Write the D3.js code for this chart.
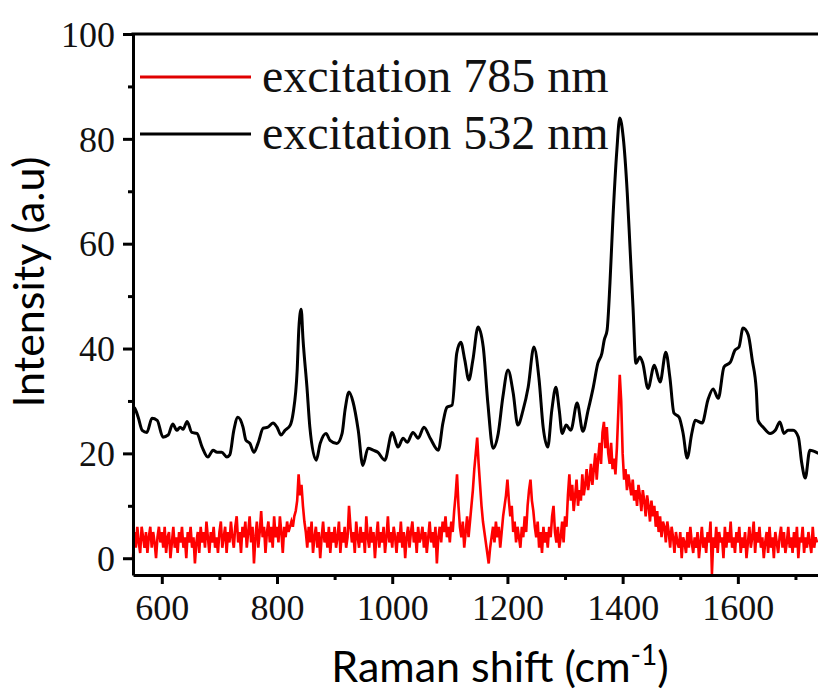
<!DOCTYPE html>
<html>
<head>
  <title>Raman spectra</title>
  <meta charset="UTF-8">
  <style>
  body { margin:0; background:#fff; }
  .tick text { font-family:"Liberation Serif","Times New Roman",serif; font-size:36px; fill:#111; }
  .axis-title { font-family:Lato,"Open Sans",sans-serif; font-size:43px; fill:#000; }
  .legend text { font-family:"Liberation Serif","Times New Roman",serif; font-size:48px; fill:#111; }
  </style>
</head>
<body>
  <div id="chart"></div>
  <script src="https://d3js.org/d3.v7.min.js" charset="utf-8"></script>
  <script type="text/javascript">
    // 532 nm spectrum (smooth, black)
    var shift532 = [550, 553, 559, 566, 574, 583, 592, 602, 611, 619, 626, 632, 637, 644, 652, 661, 670, 680, 689, 696,
      704, 713, 718, 725, 732, 741, 746, 753, 760, 767, 776, 784, 793, 800, 807, 814, 823, 828, 835, 838,
      842, 845, 852, 857, 868, 875, 885, 892, 904, 913, 918, 925, 932, 941, 949, 958, 967, 975, 987, 1000,
      1010, 1019, 1026, 1036, 1045, 1055, 1066, 1080, 1088, 1095, 1104, 1112, 1119, 1126, 1133, 1140, 1149, 1158, 1166, 1175,
      1184, 1192, 1201, 1210, 1218, 1227, 1236, 1246, 1255, 1262, 1270, 1277, 1284, 1290, 1295, 1302, 1310, 1321, 1331, 1340,
      1349, 1357, 1364, 1368, 1373, 1378, 1383, 1390, 1395, 1401, 1408, 1413, 1418, 1423, 1430, 1435, 1444, 1455, 1465, 1475,
      1482, 1489, 1498, 1505, 1512, 1520, 1526, 1538, 1548, 1557, 1566, 1576, 1587, 1595, 1602, 1609, 1618, 1625, 1632, 1635,
      1644, 1656, 1665, 1673, 1680, 1687, 1696, 1705, 1711, 1717, 1725, 1740];
    var int532 = [28.8, 28.6, 26.9, 24.4, 24.0, 26.7, 26.3, 23.1, 23.5, 25.6, 24.4, 25.0, 24.6, 26.1, 24.0, 23.8, 21.2, 19.3, 20.6, 20.2,
      20.2, 19.3, 19.7, 24.4, 26.9, 25.0, 22.5, 21.9, 20.2, 21.9, 24.8, 25.0, 25.8, 25.0, 23.5, 24.4, 25.4, 27.7, 35.9, 44.0,
      47.5, 42.0, 32.6, 25.0, 18.7, 21.9, 23.8, 22.5, 21.9, 23.8, 28.2, 31.7, 29.8, 24.4, 17.7, 21.0, 20.6, 20.2, 18.7, 24.0,
      21.2, 22.9, 22.1, 24.0, 22.9, 25.0, 22.9, 20.6, 25.8, 28.8, 29.2, 39.1, 41.2, 37.8, 34.0, 37.8, 44.1, 40.3, 29.6, 21.0,
      23.8, 30.7, 35.9, 31.5, 25.4, 28.2, 32.6, 40.3, 34.0, 25.0, 21.2, 28.2, 32.6, 28.2, 23.8, 25.4, 24.4, 29.6, 24.2, 28.2,
      32.6, 37.2, 39.1, 41.6, 43.5, 52.5, 64.5, 77.9, 84.0, 80.3, 69.7, 58.8, 47.9, 37.2, 38.4, 37.2, 32.4, 36.8, 33.6, 39.3,
      34.5, 27.7, 26.9, 23.8, 19.1, 23.8, 26.3, 25.8, 30.2, 32.3, 30.5, 36.5, 37.4, 39.7, 40.3, 43.9, 42.6, 37.8, 32.1, 26.3,
      25.0, 23.8, 24.4, 26.0, 23.8, 24.4, 24.4, 23.1, 18.1, 15.3, 20.6, 20.0];

    // 785 nm spectrum (noisy, red), one value every 2.5 cm-1 from 550, one row per 50 cm-1
    var shift785Start = 550, shift785Step = 2.5;
    var int785 = [
      0, 5, 2, 6, 3, 1, 6, 4, 2, 5, 1, 4, 6, 2, 5, 3, 0, 4, 6, 3,
      5, 2, 6, 1, 4, 5, 0, 3, 6, 2, 4, 1, 5, 3, 6, 2, 4, 0, 5, 3,
      6, 2, 4, -1, 3, 5, 1, 6, 3, 5, 2, 7, 4, 1, 5, 3, 6, 2, 4, 1,
      5, 7, 2, 4, 6, 1, 5, 3, 7, 4, 2, 6, 8, 3, 5, 1, 6, 4, 7, 2,
      5, 8, 3, 6, -1, 4, 7, 2, 5, 9, 4, 6, 1, 5, 7, 3, 6, 2, 8, 4,
      6, 3, 8, 5, 1, 6, 4, 7, 5, 6, 7, 6, 8, 9, 11, 16, 12, 14, 10, 7,
      5, 2, 6, 3, 7, 1, 4, 6, 2, 5, 0, 4, 7, 3, 5, 2, 6, 1, 5, 3,
      6, 2, 4, 7, 1, 5, 3, 6, 2, 4, 10, 6, 3, 5, 1, 7, 4, 2, 6, 3,
      5, 1, 8, 4, 2, 6, 3, 5, 0, 4, 7, 2, 5, 3, 6, 1, 4, 8, 3, 5,
      2, 6, 4, 1, 5, 3, 7, 2, 5, 0, 4, 6, 2, 5, 7, 3, 5, 1, 6, 3,
      4, 6, 2, 5, 1, 4, 7, 3, 5, 2, 6, -1, 4, 6, 3, 7, 5, 8, 4, 6,
      3, 7, 5, 9, 12, 16, 10, 6, 4, 7, 2, 5, 8, 4, 7, 10, 13, 17, 20, 23,
      18, 14, 10, 7, 5, 3, 1, -1, 2, 4, 6, 3, 7, 4, 6, 2, 5, 8, 10, 12,
      15, 11, 8, 10, 5, 7, 3, 6, 4, 2, 6, 4, 8, 5, 10, 13, 15, 11, 9, 6,
      4, 7, 2, 5, 1, 6, 3, 5, 2, 6, 4, 8, 10, 5, 3, 6, 2, 4, 7, 3,
      8, 6, 12, 16, 11, 14, 9, 12, 15, 10, 13, 11, 16, 12, 14, 17, 13, 15, 18, 14,
      17, 20, 15, 19, 22, 18, 24, 26, 21, 25, 20, 18, 22, 17, 19, 16, 21, 28, 35, 30,
      20, 15, 17, 13, 16, 14, 12, 15, 11, 13, 10, 14, 12, 9, 13, 11, 8, 12, 10, 7,
      11, 8, 10, 6, 9, 5, 8, 4, 7, 6, 3, 7, 5, 2, 6, 4, 1, 5, 3, 2,
      5, 0, 4, 3, 1, 5, 2, 6, 3, 1, 4, 2, 5, 0, 3, 6, 2, 4, 1, 5,
      3, 7, -3, 4, 2, 6, 1, 5, 3, 4, 0, 6, 2, 5, 3, 7, 2, 4, 1, 5,
      3, 6, 1, 4, 2, 5, 0, 3, 6, 2, 4, 7, 1, 5, 3, 6, 2, 4, 0, 3,
      5, 1, 6, 2, 4, 0, 5, 3, 1, 4, 6, 2, 5, 1, 3, 6, 2, 4, 1, 5,
      2, 6, 0, 4, 3, 6, 1, 4, 2, 5, 3, 1, 6, 2, 4, 3];

    var xTicks = [600, 800, 1000, 1200, 1400, 1600];
    var xMinor = [700, 900, 1100, 1300, 1500, 1700];
    var yTicks = [0, 20, 40, 60, 80, 100];
    var yMinor = [10, 30, 50, 70, 90];
    var seriesNames = ["excitation 785 nm", "excitation 532 nm"];
    var seriesColors = ["#ff0000", "#000000"];

    var data532 = shift532.map(function(s, i) { return {x: s, y: int532[i]}; });
    var data785 = int785.map(function(v, i) { return {x: shift785Start + i * shift785Step, y: v}; });

    var svg = d3.select("#chart")
      .append("svg")
      .attr("width", 818)
      .attr("height", 691);

    var x = d3.scaleLinear()
      .domain([550, 1740])
      .range([133, 818.5]);

    var y = d3.scaleLinear()
      .domain([-3.2, 100])
      .range([575, 34]);

    var line = d3.line()
      .x(function(d) { return x(d.x); })
      .y(function(d) { return y(d.y); });

    svg.append("path")
        .datum(data532)
        .attr("fill", "none")
        .attr("stroke", seriesColors[1])
        .attr("stroke-width", 3)
        .attr("stroke-linejoin", "round")
        .attr("d", line.curve(d3.curveMonotoneX));

    svg.append("path")
        .datum(data785)
        .attr("fill", "none")
        .attr("stroke", seriesColors[0])
        .attr("stroke-width", 2.6)
        .attr("stroke-linejoin", "miter")
        .attr("d", line.curve(d3.curveLinear));

    // minor ticks first, then the labelled axes on top
    svg.append("g")
        .attr("transform", "translate(0,575)")
        .call(d3.axisBottom(x).tickValues(xMinor).tickSize(5).tickFormat(""))
        .call(function(g) { g.select(".domain").remove(); })
        .selectAll("line").attr("stroke-width", 3);

    svg.append("g")
        .attr("transform", "translate(133,0)")
        .call(d3.axisLeft(y).tickValues(yMinor).tickSize(5).tickFormat(""))
        .call(function(g) { g.select(".domain").remove(); })
        .selectAll("line").attr("stroke-width", 3);

    var xAxis = svg.append("g")
        .attr("transform", "translate(0,575)")
        .call(d3.axisBottom(x).tickValues(xTicks).tickFormat(d3.format("d"))
          .tickSize(9).tickSizeOuter(0).tickPadding(10));

    var yAxis = svg.append("g")
        .attr("transform", "translate(133,0)")
        .call(d3.axisLeft(y).tickValues(yTicks).tickFormat(d3.format("d"))
          .tickSize(10).tickSizeOuter(0).tickPadding(8));

    [xAxis, yAxis].forEach(function(a) {
      a.select(".domain").attr("stroke-width", 3);
      a.selectAll(".tick line").attr("stroke-width", 3);
    });
    yAxis.selectAll(".tick text").attr("dy", "0.34em");

    // top frame line
    svg.append("line")
        .attr("x1", 131.5).attr("x2", 818)
        .attr("y1", y(100)).attr("y2", y(100))
        .attr("stroke", "#000")
        .attr("stroke-width", 3);

    svg.append("text")
        .attr("class", "axis-title")
        .attr("transform", "translate(44,282) rotate(-90)")
        .attr("text-anchor", "middle")
        .text("Intensity (a.u)");

    var xt = svg.append("text")
        .attr("class", "axis-title")
        .attr("x", 500)
        .attr("y", 682)
        .attr("text-anchor", "middle");
    xt.append("tspan").text("Raman shift (cm");
    xt.append("tspan").attr("font-size", "28px").attr("dy", -17).text("-1");
    xt.append("tspan").attr("dy", 17).text(")");

    var legend = svg.append("g").attr("class", "legend");
    seriesNames.forEach(function(name, i) {
      var ly = [77, 134][i];
      legend.append("line")
          .attr("x1", 140).attr("x2", 251)
          .attr("y1", ly).attr("y2", ly)
          .attr("stroke", i === 0 ? "#e00000" : "#000")
          .attr("stroke-width", 3);
      legend.append("text")
          .attr("x", 262)
          .attr("y", ly + 15)
          .text(name);
    });
  </script>
</body>
</html>
